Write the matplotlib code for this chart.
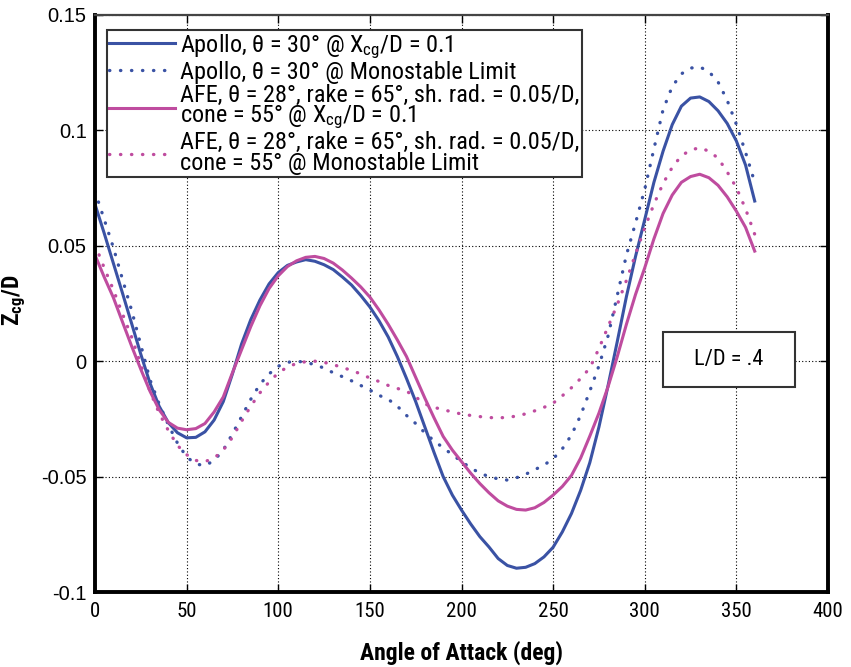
import matplotlib
matplotlib.use("Agg")
import matplotlib.pyplot as plt
from matplotlib import font_manager
from matplotlib.patches import Rectangle

# angle of attack (deg), every 5 deg, and Zcg/D
alpha = list(range(0, 365, 5))

apollo_xcg = [0.0680, 0.0555, 0.0425, 0.0295, 0.0163, 0.0030, -0.0095, -0.0195, -0.0266, -0.0310,
              -0.0332, -0.0330, -0.0306, -0.0255, -0.0175, -0.0055, 0.0075, 0.0180, 0.0265, 0.0335,
              0.0384, 0.0415, 0.0430, 0.0440, 0.0433, 0.0418, 0.0397, 0.0365, 0.0330, 0.0285,
              0.0235, 0.0175, 0.0105, 0.0020, -0.0075, -0.0175, -0.0285, -0.0395, -0.0500, -0.0580,
              -0.0645, -0.0705, -0.0760, -0.0805, -0.0855, -0.0885, -0.0897, -0.0893, -0.0877, -0.0848,
              -0.0806, -0.0740, -0.0660, -0.0560, -0.0440, -0.0285, -0.0105, 0.0085, 0.0280, 0.0455,
              0.0614, 0.0775, 0.0910, 0.1025, 0.1105, 0.1140, 0.1145, 0.1125, 0.1085, 0.1030,
              0.0954, 0.0850, 0.0694]

apollo_mono = [0.0735, 0.0615, 0.0493, 0.0355, 0.0220, 0.0070, -0.0080, -0.0185, -0.0275, -0.0355,
               -0.0415, -0.0445, -0.0453, -0.0430, -0.0385, -0.0315, -0.0240, -0.0165, -0.0100, -0.0055,
               -0.0022, -0.0005, 0.0000, -0.0005, -0.0015, -0.0030, -0.0050, -0.0067, -0.0085, -0.0105,
               -0.0125, -0.0148, -0.0165, -0.0195, -0.0235, -0.0270, -0.0310, -0.0345, -0.0375, -0.0405,
               -0.0435, -0.0462, -0.0485, -0.0500, -0.0510, -0.0515, -0.0505, -0.0490, -0.0470, -0.0450,
               -0.0423, -0.0380, -0.0320, -0.0235, -0.0130, -0.0020, 0.0110, 0.0285, 0.0460, 0.0600,
               0.0745, 0.0920, 0.1090, 0.1190, 0.1245, 0.1270, 0.1275, 0.1255, 0.1210, 0.1130,
               0.1026, 0.0905, 0.0775]

afe_xcg = [0.0460, 0.0365, 0.0276, 0.0170, 0.0065, -0.0035, -0.0130, -0.0210, -0.0265, -0.0290,
           -0.0297, -0.0292, -0.0270, -0.0220, -0.0155, -0.0050, 0.0050, 0.0150, 0.0240, 0.0315,
           0.0370, 0.0410, 0.0435, 0.0450, 0.0454, 0.0445, 0.0425, 0.0395, 0.0360, 0.0322,
           0.0278, 0.0222, 0.0160, 0.0092, 0.0020, -0.0070, -0.0160, -0.0245, -0.0326, -0.0385,
           -0.0435, -0.0485, -0.0530, -0.0570, -0.0605, -0.0628, -0.0642, -0.0645, -0.0635, -0.0612,
           -0.0580, -0.0543, -0.0495, -0.0420, -0.0325, -0.0225, -0.0110, 0.0020, 0.0160, 0.0290,
           0.0405, 0.0530, 0.0640, 0.0720, 0.0775, 0.0800, 0.0810, 0.0795, 0.0762, 0.0712,
           0.0650, 0.0580, 0.0477]

afe_mono = [0.0505, 0.0405, 0.0310, 0.0205, 0.0105, -0.0015, -0.0130, -0.0225, -0.0300, -0.0365,
            -0.0405, -0.0430, -0.0435, -0.0420, -0.0385, -0.0330, -0.0260, -0.0195, -0.0137, -0.0090,
            -0.0051, -0.0025, -0.0010, -0.0002, 0.0000, -0.0005, -0.0015, -0.0027, -0.0040, -0.0055,
            -0.0073, -0.0088, -0.0105, -0.0118, -0.0130, -0.0155, -0.0185, -0.0200, -0.0210, -0.0220,
            -0.0229, -0.0235, -0.0240, -0.0244, -0.0246, -0.0243, -0.0238, -0.0228, -0.0215, -0.0200,
            -0.0182, -0.0150, -0.0115, -0.0075, -0.0030, 0.0055, 0.0150, 0.0245, 0.0350, 0.0465,
            0.0578, 0.0680, 0.0770, 0.0840, 0.0890, 0.0915, 0.0925, 0.0910, 0.0880, 0.0820,
            0.0752, 0.0660, 0.0550]

labels = [
    r"Apollo, θ = 30° @ X$_{\mathregular{cg}}$/D = 0.1",
    "Apollo, θ = 30° @ Monostable Limit",
    "AFE, θ = 28°, rake = 65°, sh. rad. = 0.05/D,\ncone = 55° @ X$_{\\mathregular{cg}}$/D = 0.1",
    "AFE, θ = 28°, rake = 65°, sh. rad. = 0.05/D,\ncone = 55° @ Monostable Limit",
]
x_ticks = [0, 50, 100, 150, 200, 250, 300, 350, 400]
y_ticks = [-0.1, -0.05, 0, 0.05, 0.1, 0.15]
y_ticklabels = ["-0.1", "-0.05", "0", "0.05", "0.1", "0.15"]

BLUE = "#3a52a4"
MAGENTA = "#bf4c9f"

names = {f.name for f in font_manager.fontManager.ttflist}
narrow = next((n for n in ["Liberation Sans Narrow", "Roboto Condensed", "Noto Sans Condensed",
                           "DejaVu Sans Condensed", "Liberation Sans"] if n in names), "DejaVu Sans")
wide = "Liberation Sans" if "Liberation Sans" in names else "DejaVu Sans"

plt.rcParams["font.family"] = [narrow, "DejaVu Sans"]
plt.rcParams["mathtext.fontset"] = "custom"
plt.rcParams["mathtext.rm"] = narrow
plt.rcParams["mathtext.bf"] = narrow + ":bold"
plt.rcParams["mathtext.default"] = "regular"

fig = plt.figure(figsize=(8.51, 6.67), dpi=100)
ax = fig.add_axes([95 / 851, 1 - 592 / 667, 733 / 851, 577 / 667])

dot = dict(linestyle=(0, (0.1, 3.2)), dash_capstyle="round", lw=2.4)
ax.plot(alpha, apollo_xcg, color=BLUE, lw=2.2, label=labels[0])
ax.plot(alpha, apollo_mono, color=BLUE, label=labels[1], **dot)
ax.plot(alpha, afe_xcg, color=MAGENTA, lw=2.2, label=labels[2])
ax.plot(alpha, afe_mono, color=MAGENTA, label=labels[3], **dot)

ax.set_xlim(0, 400)
ax.set_ylim(-0.1, 0.15)
ax.set_xticks(x_ticks)
ax.set_yticks(y_ticks)
ax.set_yticklabels(y_ticklabels, fontfamily=wide)
ax.tick_params(direction="in", length=6, width=1, top=True, right=True, labelsize=15, pad=7)
ax.tick_params(axis="y", labelsize=14.5, pad=6)
ax.grid(True, color="black", linestyle=(0, (1, 2)), lw=0.8)

for side in ["left", "bottom", "right"]:
    ax.spines[side].set_linewidth(2.8)
ax.spines["top"].set_linewidth(1.6)
ax.spines["top"].set_color("#444444")

ax.set_xlabel("Angle of Attack (deg)", fontsize=17, fontweight="bold", labelpad=14)
ax.set_ylabel(r"$\mathbf{Z_{cg}}$/D", fontsize=17, fontweight="bold")
ax.yaxis.set_label_coords(-0.091, 0.506)

leg = ax.legend(loc="upper left", bbox_to_anchor=(0.0164, 0.974), borderaxespad=0,
                fontsize=17.5, handlelength=2.7, handletextpad=0.2, labelspacing=0.0,
                borderpad=0.1, fancybox=False, framealpha=1, edgecolor="#333333")
leg.get_frame().set_linewidth(1.5)
for t in leg.get_texts():
    t.set_linespacing(0.85)

ax.add_patch(Rectangle((0.7745, 0.3558), 0.1805, 0.0952, transform=ax.transAxes,
                       facecolor="white", edgecolor="#333333", lw=1.5, zorder=5))
ax.text(0.8648, 0.4035, "L/D = .4", transform=ax.transAxes, ha="center", va="center",
        fontsize=16, zorder=6)

fig.savefig("out.png", dpi=100)
